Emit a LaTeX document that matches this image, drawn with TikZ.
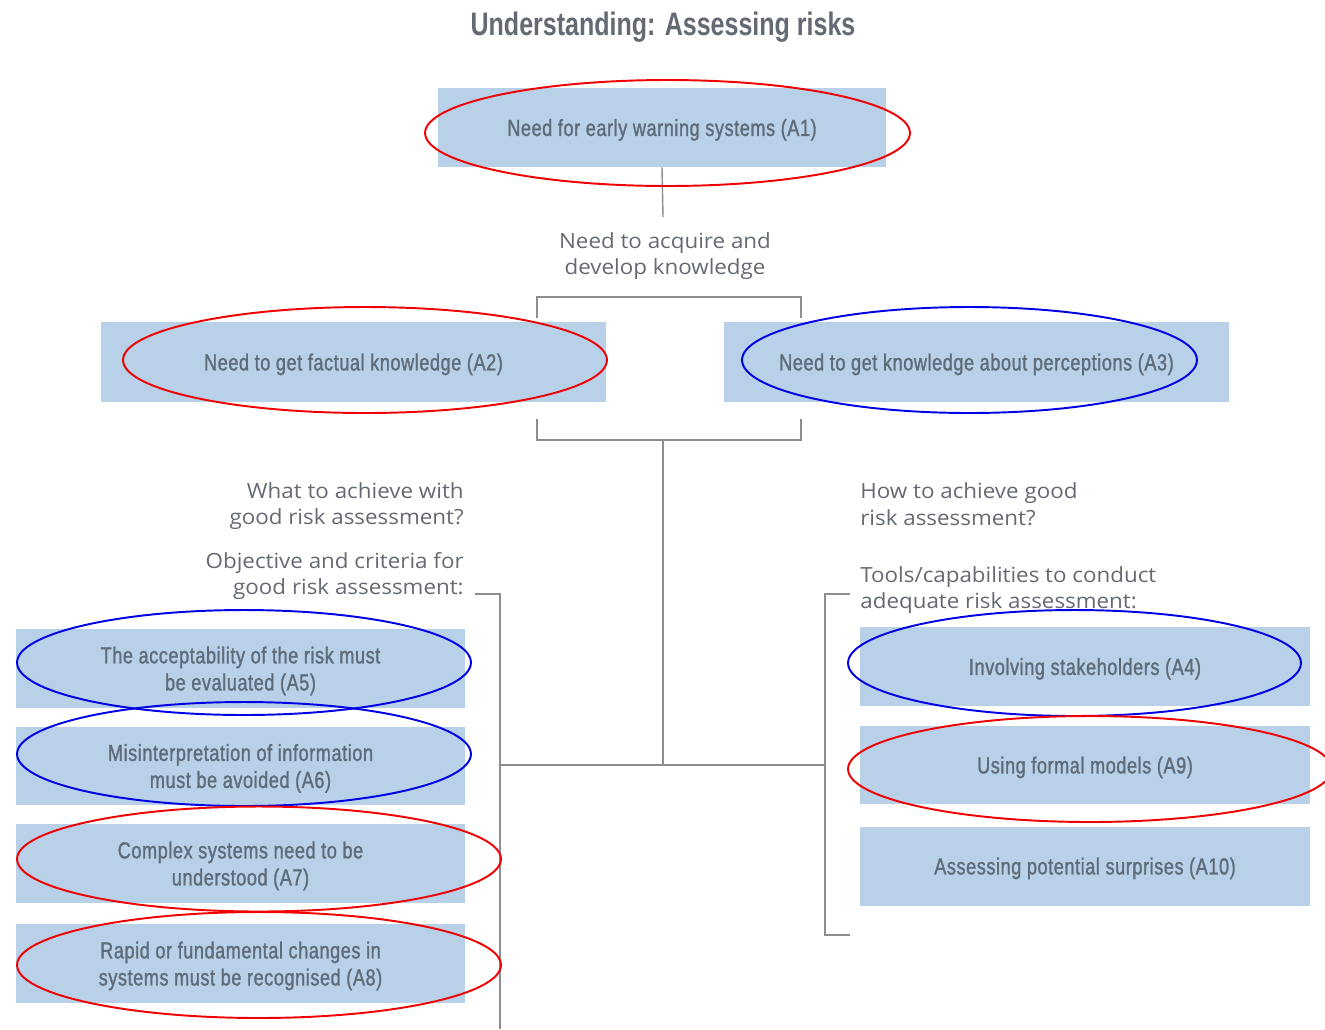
\documentclass[tikz,border=0pt]{standalone}
\usepackage{fontspec}
\setmainfont{Liberation Sans}
\newfontfamily\condfont[FakeStretch=0.78,FakeBold=1.2,LetterSpace=2.5]{Liberation Sans}
\newfontfamily\titlefont[FakeStretch=0.77]{Liberation Sans}
\newfontfamily\labfont[FakeStretch=1.07]{Open Sans}
\definecolor{boxfill}{HTML}{B8D0E8}
\definecolor{boxtext}{HTML}{5E6B79}
\definecolor{labtext}{HTML}{646A73}
\definecolor{conncol}{HTML}{8E8E8E}
\definecolor{ellred}{HTML}{F00000}
\definecolor{ellblue}{HTML}{0000E6}
\begin{document}
\begin{tikzpicture}[x=0.02cm,y=-0.02cm,
  abox/.style={fill=boxfill, inner sep=0pt, align=center, text=boxtext, text depth=0pt,
    font=\condfont\fontsize{13.2}{15.4}\selectfont},
  lab/.style={inner sep=0pt, text=labtext, font=\labfont\fontsize{11.9}{15.3}\selectfont},
  conn/.style={draw=conncol, line width=0.8pt},
  redell/.style={draw=ellred, line width=1.1pt},
  blueell/.style={draw=ellblue, line width=1.1pt}]
\useasboundingbox (0,0) rectangle (1325,1029);

% title
\node[inner sep=0pt, text=labtext, font=\titlefont\bfseries\fontsize{18.5}{20}\selectfont] (title) at (663,27) {Understanding: Assessing risks};

% boxes
\node[abox, minimum width={448*0.02cm}, minimum height={79*0.02cm}] (A1) at (662,127.5) {Need for early warning systems (A1)};
\node[abox, minimum width={505*0.02cm}, minimum height={80*0.02cm}] (A2) at (353.5,362) {Need to get factual knowledge (A2)};
\node[abox, minimum width={505*0.02cm}, minimum height={80*0.02cm}] (A3) at (976.5,362) {Need to get knowledge about perceptions (A3)};
\node[abox, minimum width={449*0.02cm}, minimum height={79*0.02cm}] (A5) at (240.5,668.5) {The acceptability of the risk must\\be evaluated (A5)};
\node[abox, minimum width={449*0.02cm}, minimum height={78*0.02cm}] (A6) at (240.5,766) {Misinterpretation of information\\must be avoided (A6)};
\node[abox, minimum width={449*0.02cm}, minimum height={79*0.02cm}] (A7) at (240.5,863.5) {Complex systems need to be\\understood (A7)};
\node[abox, minimum width={449*0.02cm}, minimum height={79*0.02cm}] (A8) at (240.5,963.5) {Rapid or fundamental changes in\\systems must be recognised (A8)};
\node[abox, minimum width={450*0.02cm}, minimum height={79*0.02cm}] (A4) at (1085,666.5) {Involving stakeholders (A4)};
\node[abox, minimum width={450*0.02cm}, minimum height={78*0.02cm}] (A9) at (1085,765) {Using formal models (A9)};
\node[abox, minimum width={450*0.02cm}, minimum height={79*0.02cm}] (A10) at (1085,866) {Assessing potential surprises (A10)};

% labels
\node[lab, align=center] (K) at (665,256) {Need to acquire and\\develop knowledge};
\node[lab, align=right, anchor=east] (L1) at (464,506) {What to achieve with\\good risk assessment?};
\node[lab, align=right, anchor=east] (L2) at (464,576) {Objective and criteria for\\good risk assessment:};
\node[lab, align=left, anchor=west] (R1) at (860,504) {How to achieve good\\risk assessment?};
\node[lab, align=left, anchor=west] (R2) at (860,590) {Tools/capabilities to conduct\\adequate risk assessment:};

% connector coordinates
\coordinate (k1) at (663,217);
\coordinate (bt1) at (537,318);
\coordinate (bt2) at (537,297);
\coordinate (bt3) at (801,297);
\coordinate (bt4) at (801,318);
\coordinate (bb1) at (537,419);
\coordinate (bb2) at (537,440);
\coordinate (bb3) at (801,440);
\coordinate (bb4) at (801,419);
\coordinate (bbm) at (663,440);
\coordinate (hub) at (663,765);
\coordinate (hl) at (500,765);
\coordinate (hr) at (825,765);
\coordinate (lt0) at (475,594);
\coordinate (lt1) at (500,594);
\coordinate (lb) at (500,1029);
\coordinate (rt0) at (850,594);
\coordinate (rt1) at (825,594);
\coordinate (rb1) at (825,935);
\coordinate (rb0) at (850,935);

\draw[conn] (A1.south) -- (k1);
\draw[conn] (bt1) -- (bt2) -- (bt3) -- (bt4);
\draw[conn] (bb1) -- (bb2) -- (bb3) -- (bb4);
\draw[conn] (bbm) -- (hub);
\draw[conn] (hl) -- (hr);
\draw[conn] (lt0) -- (lt1) -- (lb);
\draw[conn] (rt0) -- (rt1) -- (rb1) -- (rb0);

% ellipses
\draw[redell] (667.5,133) ellipse [x radius=4.85cm, y radius=1.06cm];
\draw[redell] (365,360) ellipse [x radius=4.84cm, y radius=1.06cm];
\draw[blueell] (969.5,360) ellipse [x radius=4.55cm, y radius=1.06cm];
\draw[blueell] (244,662.5) ellipse [x radius=4.54cm, y radius=1.05cm];
\draw[blueell] (244,754) ellipse [x radius=4.54cm, y radius=1.04cm];
\draw[redell] (259,859) ellipse [x radius=4.84cm, y radius=1.05cm];
\draw[redell] (259,965) ellipse [x radius=4.84cm, y radius=1.06cm];
\draw[blueell] (1074.5,663) ellipse [x radius=4.53cm, y radius=1.06cm];
\draw[redell] (1090,769) ellipse [x radius=4.84cm, y radius=1.06cm];
\end{tikzpicture}
\end{document}
